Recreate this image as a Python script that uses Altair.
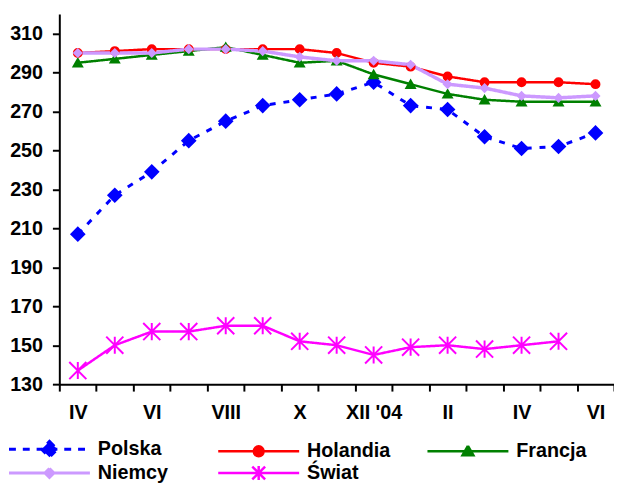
import json
import altair as alt
import pandas as pd

months = ["IV", "V", "VI", "VII", "VIII", "IX", "X", "XI", "XII '04", "I", "II", "III", "IV", "V", "VI"]
series = ["Polska", "Holandia", "Francja", "Niemcy", "Świat"]
polska = [207, 227, 239, 255, 265, 273, 276, 279, 285, 273, 271, 257, 251, 252, 259]
holandia = [300, 301, 302, 302, 302, 302, 302, 300, 295, 293, 288, 285, 285, 285, 284]
francja = [295, 297, 299, 301, 303, 299, 295, 296, 289, 284, 279, 276, 275, 275, 275]
niemcy = [300, 300, 300, 302, 302, 301, 298, 296, 296, 294, 284, 282, 278, 277, 278]
swiat = [137, 150, 157, 157, 160, 160, 152, 150, 145, 149, 150, 148, 150, 152, None]
y_ticks = [130, 150, 170, 190, 210, 230, 250, 270, 290, 310]

colors = ["#0000FF", "#FF0000", "#008000", "#CC99FF", "#FF00FF"]
line_widths = [3, 2.5, 2.5, 3.5, 2.5]
dashes = [[6, 8], [1, 0], [1, 0], [1, 0], [1, 0]]
asterisk = "M0,-1L0,1M-1,-1L1,1M-1,1L1,-1"
marker_shapes = ["diamond", "circle", "triangle-up", "diamond", asterisk]
marker_sizes = [170, 64, 75, 55, 300]

# legend symbols: a line with the marker in its middle
LINE = "M-8.2,0L8.2,0"
legend_shapes = [
    LINE + "M0,-1.6L1.6,0L0,1.6L-1.6,0Z",
    LINE + "M-1,0A1,1 0 1,0 1,0A1,1 0 1,0 -1,0Z",
    LINE + "M0,-1.1L1.1,0.8L-1.1,0.8Z",
    LINE + "M0,-0.9L0.9,0L0,0.9L-0.9,0Z",
    LINE + "M0,-1.4L0,1.4M-1.3,-1.3L1.3,1.3M-1.3,1.3L1.3,-1.3",
]
legend_widths = [3, 2.5, 2.5, 3, 2.5]


def q(s):
    return json.dumps(s, ensure_ascii=False)


def by_series(values, default, key="datum.value"):
    expr = ""
    for s, v in zip(series, values):
        expr += f"{key} === {q(s)} ? {json.dumps(v)} : "
    return expr + json.dumps(default)


def cond(values, key="datum.series"):
    return {
        "condition": [{"test": f"{key} === {q(s)}", "value": v} for s, v in zip(series[:-1], values[:-1])],
        "value": values[-1],
    }


rows = []
for name, vals in zip(series, [polska, holandia, francja, niemcy, swiat]):
    for i, v in enumerate(vals):
        if v is not None:
            rows.append({"idx": i, "series": name, "value": v})
df = pd.DataFrame(rows)

label_expr = f"datum.value % 2 === 0 ? {q(months)}[datum.value] : ''"

x_enc = alt.X(
    "idx:O",
    scale=alt.Scale(type="band", paddingInner=0, paddingOuter=0),
    axis=alt.Axis(
        title=None, labelExpr=label_expr, tickBand="extent", tickSize=7,
        labelPadding=12, labelAngle=0, labelOverlap=False,
    ),
)
y_enc = alt.Y(
    "value:Q",
    scale=alt.Scale(domain=[130, 320], nice=False, zero=False),
    axis=alt.Axis(title=None, values=y_ticks, grid=False, tickSize=7, labelPadding=10),
)
color_scale = alt.Scale(domain=series, range=colors)

legend = alt.Legend(
    title=None, orient="none", legendX=-55, legendY=431, columns=3,
    direction="horizontal",
    gridAlign="all", columnPadding=32, rowPadding=-3, padding=0,
    symbolSize=100, symbolOffset=35, labelOffset=39,
    symbolType=alt.ExprRef(by_series(legend_shapes, "circle")),
    symbolFillColor=alt.ExprRef("scale('color', datum.value)"),
    symbolStrokeColor=alt.ExprRef("scale('color', datum.value)"),
    symbolStrokeWidth=alt.ExprRef(by_series(legend_widths, 2.5)),
    symbolDash=alt.ExprRef("datum.value === 'Polska' ? [7,7] : [100,0]"),
    symbolOpacity=1,
    labelFont="Liberation Sans", labelFontSize=20, labelFontWeight="bold",
    labelColor="black",
)

lines = alt.Chart(df).mark_line().encode(
    x=x_enc,
    y=y_enc,
    color=alt.Color("series:N", scale=color_scale, legend=legend),
    strokeWidth=cond(line_widths),
    strokeDash=cond(dashes),
)

points = alt.Chart(df).mark_point(
    filled=True, opacity=1, strokeWidth=2,
    stroke=alt.ExprRef("scale('color', datum.series)"),
).encode(
    x=x_enc,
    y=y_enc,
    color=alt.Color("series:N", scale=color_scale, legend=None),
    shape=cond(marker_shapes),
    size=cond(marker_sizes),
)

chart = alt.layer(lines, points).properties(
    width=562, height=375,
    autosize=alt.AutoSizeParams(type="none"),
    padding={"left": 52, "top": 3, "right": 0, "bottom": 98},
    background="white",
).configure_view(stroke=None).configure_axis(
    labelFont="Liberation Sans", labelFontSize=20, labelFontWeight="bold",
    labelColor="black", domainColor="black", tickColor="black",
    domainWidth=2, tickWidth=2,
)

chart.save("out.html", embed_options={"renderer": "svg", "actions": False})
